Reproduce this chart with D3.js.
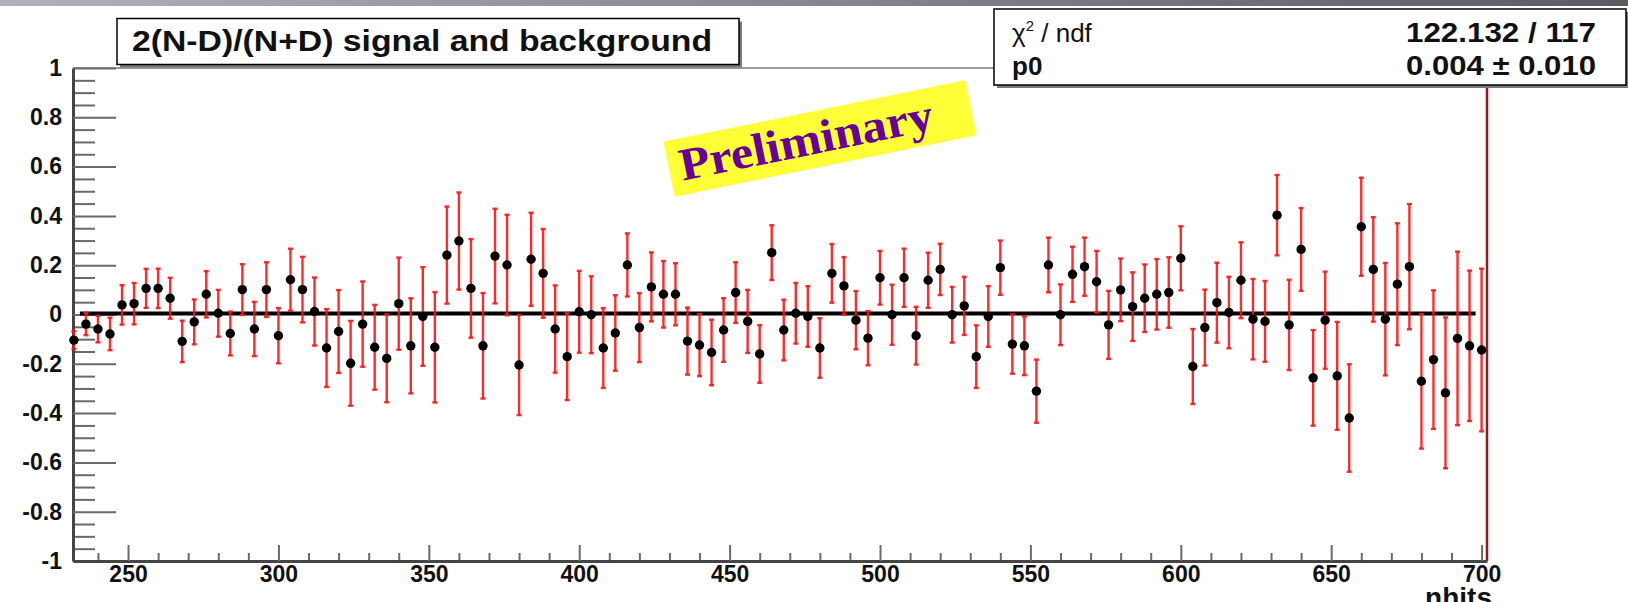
<!DOCTYPE html>
<html>
<head>
<meta charset="utf-8">
<script src="https://cdn.jsdelivr.net/npm/d3@7"></script>
<style>
  html, body { margin: 0; padding: 0; background: #fff; overflow: hidden; }
  svg { display: block; font-family: "Liberation Sans", Arial, sans-serif; }
</style>
</head>
<body>
<svg id="chart" width="1628" height="602"></svg>
<script>
// histogram 2(N-D)/(N+D) per nhits bin (bin centres 232 ... 700, width 4)
const binFirst = 232, binWidth = 4;
const values = [
  -0.104, -0.039, -0.059, -0.079,  0.039,  0.044,  0.106,  0.106,  0.066, -0.109,
  -0.030,  0.082,  0.005, -0.077,  0.101, -0.059,  0.101, -0.086,  0.141,  0.101,
   0.012, -0.136, -0.069, -0.198, -0.039, -0.133, -0.178,  0.044, -0.127, -0.008,
  -0.133,  0.241,  0.298,  0.106, -0.127,  0.237,  0.201, -0.205,  0.224,  0.167,
  -0.059, -0.171,  0.011, -0.001, -0.136, -0.075,  0.201, -0.053,  0.112,  0.082,
   0.082, -0.108, -0.124, -0.154, -0.063,  0.089, -0.028, -0.160,  0.251, -0.063,
   0.005, -0.008, -0.136,  0.167,  0.116, -0.023, -0.096,  0.149, -0.001,  0.149,
  -0.086,  0.139,  0.183, -0.001,  0.035, -0.171, -0.008,  0.190, -0.120, -0.127,
  -0.311,  0.201, -0.001,  0.163,  0.194,  0.133, -0.042,  0.100,  0.032,  0.066,
   0.082,  0.089,  0.228, -0.211, -0.053,  0.048,  0.008,  0.139, -0.019, -0.028,
   0.403, -0.042,  0.264, -0.257, -0.023, -0.249, -0.420,  0.356,  0.183, -0.019,
   0.123,  0.194, -0.271, -0.183, -0.318, -0.097, -0.127, -0.144
];
const errors = [
  0.036, 0.045, 0.054, 0.066, 0.080, 0.084, 0.079, 0.080, 0.083, 0.084,
  0.091, 0.094, 0.095, 0.089, 0.103, 0.110, 0.111, 0.112, 0.126, 0.133,
  0.138, 0.158, 0.168, 0.172, 0.173, 0.172, 0.178, 0.187, 0.193, 0.200,
  0.224, 0.197, 0.197, 0.200, 0.214, 0.192, 0.204, 0.203, 0.189, 0.180,
  0.177, 0.176, 0.166, 0.156, 0.162, 0.153, 0.128, 0.140, 0.140, 0.135,
  0.126, 0.136, 0.126, 0.133, 0.129, 0.123, 0.128, 0.117, 0.111, 0.123,
  0.123, 0.123, 0.121, 0.119, 0.117, 0.118, 0.110, 0.109, 0.122, 0.118,
  0.117, 0.112, 0.104, 0.113, 0.118, 0.127, 0.123, 0.110, 0.120, 0.119,
  0.128, 0.111, 0.123, 0.112, 0.118, 0.125, 0.138, 0.127, 0.139, 0.137,
  0.143, 0.143, 0.130, 0.152, 0.154, 0.162, 0.145, 0.154, 0.163, 0.164,
  0.163, 0.183, 0.168, 0.194, 0.197, 0.219, 0.218, 0.199, 0.212, 0.228,
  0.247, 0.254, 0.273, 0.281, 0.306, 0.352, 0.305, 0.330
];

// constant fit
const fitP0 = 0.004;
const fitRange = [234, 698];

const xTicks = [250, 300, 350, 400, 450, 500, 550, 600, 650, 700];
const yTicks = [-1, -0.8, -0.6, -0.4, -0.2, 0, 0.2, 0.4, 0.6, 0.8, 1];

const titleText = "2(N-D)/(N+D) signal and background";
const statLabels = ["ndf", "p0"];
const statValues = ["122.132 / 117", "0.004 \u00b1 0.010"];
const xTitle = "nhits";
const stampText = "Preliminary";

const svg = d3.select("#chart");
const W = 1628, H = 602;

const x = d3.scaleLinear().domain([231.7, 701.8]).range([73, 1487]);
const y = d3.scaleLinear().domain([-1, 1]).range([561, 68]);

// grey strip at the very top
const defs = svg.append("defs");
const grad = defs.append("linearGradient").attr("id", "strip");
grad.append("stop").attr("offset", "0%").attr("stop-color", "#b2b0b8");
grad.append("stop").attr("offset", "100%").attr("stop-color", "#5c5a62");
svg.append("rect").attr("x", 0).attr("y", 0).attr("width", W).attr("height", 6)
  .attr("fill", "url(#strip)");

// frame: grey top, dark red right side
svg.append("line")
  .attr("x1", x.range()[0]).attr("x2", x.range()[1])
  .attr("y1", y(1)).attr("y2", y(1))
  .attr("stroke", "#9a9a9a").attr("stroke-width", 2);
svg.append("line")
  .attr("x1", x.range()[1]).attr("x2", x.range()[1])
  .attr("y1", y(1)).attr("y2", y(-1))
  .attr("stroke", "#8e1b1b").attr("stroke-width", 2.5);

const fmt = d => String(Math.round(d * 10) / 10);

// y axis (ticks point into the frame)
const yMinor = d3.range(-1, 1.0001, 0.05).filter(v => Math.abs(Math.round(v * 5) - v * 5) > 1e-6);
svg.append("g").attr("transform", "translate(73,0)")
  .call(d3.axisLeft(y).tickValues(yMinor).tickSizeInner(-22).tickSizeOuter(0).tickFormat(""))
  .call(g => g.select(".domain").remove());
const gy = svg.append("g").attr("transform", "translate(73,0)")
  .call(d3.axisLeft(y).tickValues(yTicks).tickSizeInner(-43).tickSizeOuter(0)
    .tickPadding(11).tickFormat(fmt));

// x axis
const xMinor = d3.range(240, 701, 10).filter(v => v % 50 !== 0);
svg.append("g").attr("transform", "translate(0,561)")
  .call(d3.axisBottom(x).tickValues(xMinor).tickSizeInner(-8).tickSizeOuter(0).tickFormat(""))
  .call(g => g.select(".domain").remove());
const gx = svg.append("g").attr("transform", "translate(0,561)")
  .call(d3.axisBottom(x).tickValues(xTicks).tickSizeInner(-16).tickSizeOuter(0)
    .tickPadding(5).tickFormat(fmt));

svg.selectAll(".tick line").attr("stroke", "#6a6a6a").attr("stroke-width", 2);
svg.selectAll(".domain").attr("stroke", "#454545").attr("stroke-width", 3);
svg.selectAll(".tick text")
  .attr("fill", "#111").attr("font-size", 23).attr("font-weight", "bold")
  .attr("font-family", "'Liberation Sans', Arial, sans-serif");

svg.append("text")
  .attr("x", 1492).attr("y", 607).attr("text-anchor", "end")
  .attr("font-size", 28).attr("font-weight", "bold").attr("fill", "#111")
  .text(xTitle);

// fit line
svg.append("line")
  .attr("x1", x(fitRange[0])).attr("x2", x(fitRange[1]))
  .attr("y1", y(fitP0)).attr("y2", y(fitP0))
  .attr("stroke", "#000").attr("stroke-width", 4);

// error bars + markers
const pts = values.map((v, i) => ({ nh: binFirst + i * binWidth, v, e: errors[i] }));

const bars = svg.append("g").attr("stroke", "#ff1414").attr("stroke-width", 2.4)
  .attr("stroke-opacity", 0.9);
bars.selectAll("line.bar").data(pts).enter().append("line").attr("class", "bar")
  .attr("x1", d => x(d.nh)).attr("x2", d => x(d.nh))
  .attr("y1", d => y(d.v + d.e)).attr("y2", d => y(d.v - d.e));
bars.selectAll("line.capt").data(pts).enter().append("line").attr("class", "capt")
  .attr("x1", d => x(d.nh) - 2.5).attr("x2", d => x(d.nh) + 2.5)
  .attr("y1", d => y(d.v + d.e)).attr("y2", d => y(d.v + d.e));
bars.selectAll("line.capb").data(pts).enter().append("line").attr("class", "capb")
  .attr("x1", d => x(d.nh) - 2.5).attr("x2", d => x(d.nh) + 2.5)
  .attr("y1", d => y(d.v - d.e)).attr("y2", d => y(d.v - d.e));

svg.append("g").selectAll("circle").data(pts).enter().append("circle")
  .attr("cx", d => x(d.nh)).attr("cy", d => y(d.v))
  .attr("r", 4.7).attr("fill", "#000");

// title box
svg.append("rect").attr("x", 120).attr("y", 21.5).attr("width", 622).attr("height", 46)
  .attr("fill", "#7a7a7a");
svg.append("rect").attr("x", 117).attr("y", 18.5).attr("width", 622).attr("height", 46)
  .attr("fill", "#fff").attr("stroke", "#000").attr("stroke-width", 1.5);
svg.append("text")
  .attr("x", 132).attr("y", 51)
  .attr("font-size", 29).attr("font-weight", "bold").attr("fill", "#111")
  .attr("textLength", 580).attr("lengthAdjust", "spacingAndGlyphs")
  .text(titleText);

// stats box
svg.append("rect").attr("x", 997).attr("y", 12).attr("width", 640).attr("height", 76)
  .attr("fill", "#7a7a7a");
svg.append("rect").attr("x", 994).attr("y", 9).attr("width", 632).attr("height", 76)
  .attr("fill", "#fff").attr("stroke", "#000").attr("stroke-width", 1.5);

const rowY = [42, 75];
const chiText = svg.append("text").attr("x", 1012).attr("y", rowY[0])
  .attr("font-size", 26).attr("fill", "#111");
chiText.append("tspan").text("\u03c7");
chiText.append("tspan").attr("font-size", 15).attr("dy", -11).text("2");
chiText.append("tspan").attr("dy", 11).text(" / " + statLabels[0]);
svg.append("text").attr("x", 1012).attr("y", rowY[1])
  .attr("font-size", 26).attr("font-weight", "bold").attr("fill", "#111")
  .text(statLabels[1]);
svg.selectAll("text.stat").data(statValues).enter().append("text").attr("class", "stat")
  .attr("x", 1596).attr("y", (d, i) => rowY[i]).attr("text-anchor", "end")
  .attr("font-size", 27).attr("font-weight", "bold").attr("fill", "#111")
  .attr("textLength", 190).attr("lengthAdjust", "spacingAndGlyphs")
  .text(d => d);

// "Preliminary" stamp
const stamp = svg.append("g").attr("transform", "translate(820,138.5) rotate(-11.5)");
stamp.append("rect").attr("x", -154).attr("y", -28).attr("width", 308).attr("height", 56)
  .attr("fill", "#ffff38");
stamp.append("text").attr("x", -143).attr("y", 14)
  .attr("font-family", "'Liberation Serif', 'DejaVu Serif', serif")
  .attr("font-size", 46).attr("font-weight", "bold").attr("fill", "#660099")
  .attr("textLength", 258).attr("lengthAdjust", "spacingAndGlyphs")
  .text(stampText);
</script>
</body>
</html>
